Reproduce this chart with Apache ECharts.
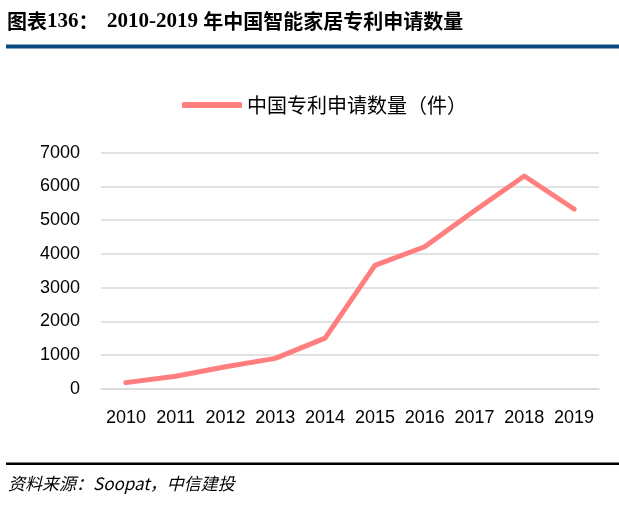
<!DOCTYPE html>
<html><head><meta charset="utf-8">
<script src="https://cdn.jsdelivr.net/npm/echarts@6/dist/echarts.min.js"></script>
<style>html,body{margin:0;padding:0;background:#fff}#c{width:619px;height:508px}</style>
</head><body><div id="c"></div>
<script>
const categories = ['2010','2011','2012','2013','2014','2015','2016','2017','2018','2019'];
const patentCounts = [180, 370, 650, 900, 1500, 3660, 4210, 5280, 6310, 5330];
const seriesName = '中国专利申请数量（件）';
const yTicks = {min: 0, max: 7000, interval: 1000};

const chart = echarts.init(document.getElementById('c'), null, {renderer: 'canvas'});
const titleRich = {
  a: {fontFamily: '"Noto Sans CJK SC"', fontWeight: 'bold', fontSize: 20, fill: '#000'},
  n: {fontFamily: '"Liberation Serif"', fontWeight: 'bold', fontSize: 21, fill: '#000'}
};
chart.setOption({
  animation: false,
  backgroundColor: '#fff',
  graphic: [
    {type: 'text', left: 7, top: 11, style: {rich: titleRich, text: '{a|图表}{n|136}{a|：}', fill: '#000'}},
    {type: 'text', left: 107, top: 11, style: {rich: titleRich, text: '{n|2010-2019 }{a|年中国智能家居专利申请数量}', fill: '#000'}},
    {type: 'rect', shape: {x: 6, y: 44.5, width: 613, height: 4}, style: {fill: '#0b4a80'}},
    {type: 'rect', shape: {x: 6, y: 462.5, width: 613, height: 2.5}, style: {fill: '#000'}},
    {type: 'text', left: 8, top: 475, style: {
      text: '资料来源：Soopat，中信建投', fontFamily: '"Noto Sans CJK SC"', fontStyle: 'italic',
      fontSize: 17, fill: '#000'
    }}
  ],
  legend: {
    left: 177, top: 90,
    icon: 'roundRect', itemWidth: 60, itemHeight: 6, itemGap: 10,
    textStyle: {fontFamily: '"Noto Sans CJK SC"', fontSize: 20, color: '#000', padding: [0, 0, 0, 0]},
    data: [seriesName]
  },
  grid: {left: 101, right: 20, top: 152.7, bottom: 119.3, containLabel: false},
  xAxis: {
    type: 'category', data: categories, boundaryGap: true,
    axisLine: {lineStyle: {color: '#d9d9d9', width: 1.5}},
    axisTick: {show: false},
    axisLabel: {color: '#000', fontSize: 18, fontFamily: '"Liberation Sans"', margin: 20,
      interval: 0, hideOverlap: false}
  },
  yAxis: {
    type: 'value', min: yTicks.min, max: yTicks.max, interval: yTicks.interval,
    axisLine: {show: false}, axisTick: {show: false},
    axisLabel: {color: '#000', fontSize: 18, fontFamily: '"Liberation Sans"', margin: 21,
      formatter: v => String(v)},
    splitLine: {lineStyle: {color: '#d9d9d9', width: 1.5}}
  },
  series: [{
    name: seriesName, type: 'line', data: patentCounts,
    showSymbol: false, symbol: 'none',
    lineStyle: {color: '#ff7f7f', width: 5, cap: 'round', join: 'round'},
    itemStyle: {color: '#ff7f7f'}
  }]
});
</script></body></html>
